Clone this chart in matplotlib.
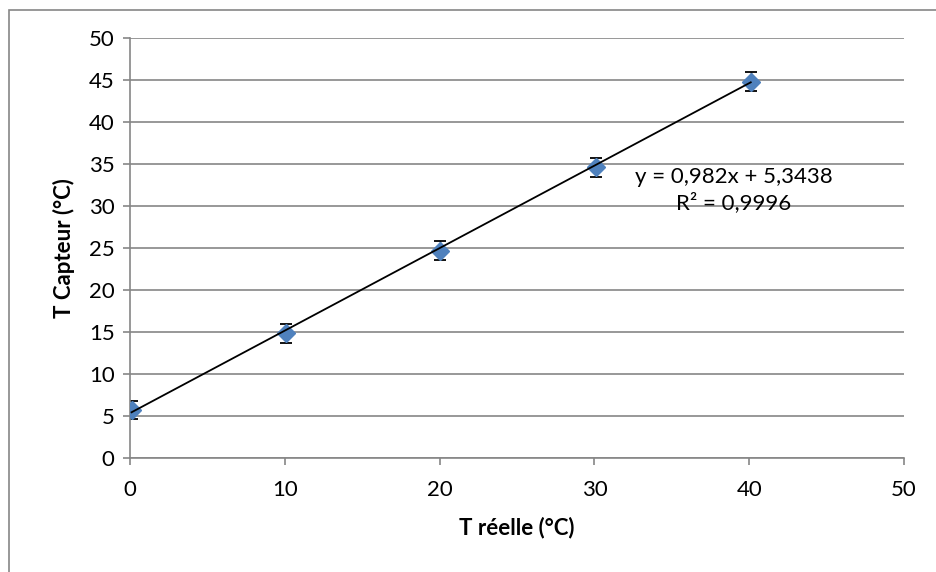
import matplotlib.pyplot as plt
import matplotlib.patches as patches
import numpy as np

plt.rcParams['font.family'] = ['Lato', 'DejaVu Sans']

# measured data
t_reelle = [0.1, 10.1, 20.0, 30.1, 40.1]
t_capteur = [5.7, 14.85, 24.7, 34.6, 44.8]
erreur = [1.1, 1.1, 1.1, 1.1, 1.1]

# trendline (as given in the chart)
pente = 0.982
origine = 5.3438
equation = "y = 0,982x + 5,3438\nR² = 0,9996"

gris = "#868686"
bleu = "#4F81BD"

fig = plt.figure(figsize=(9.36, 5.72), dpi=100)
ax = fig.add_axes([130 / 936, 1 - 458 / 572, 774 / 936, 420 / 572])

# outer chart frame
fig.patches.append(patches.Rectangle((9 / 936, -0.1), 1.2, 1 - 10 / 572 + 0.1,
                                     transform=fig.transFigure, fill=False,
                                     edgecolor=gris, linewidth=1.2))

ax.errorbar(t_reelle, t_capteur, yerr=erreur, fmt="none", ecolor="black",
            elinewidth=1, capsize=4, capthick=1.3, zorder=2)
ax.plot(t_reelle, t_capteur, linestyle="none", marker="D", markersize=9.5,
        color=bleu, zorder=3)

x_fit = np.array([min(t_reelle), max(t_reelle)])
ax.plot(x_fit, pente * x_fit + origine, color="black", linewidth=1.3, zorder=4)

ax.text(39.0, 31.9, equation, ha="center", va="center", fontsize=16,
        linespacing=1.25)

ax.set_xlim(0, 50)
ax.set_ylim(0, 50)
ax.set_xticks(range(0, 51, 10))
ax.set_yticks(range(0, 51, 5))
ax.grid(True, axis="y", color=gris, linewidth=1.2)
ax.set_axisbelow(True)
for s in ["top", "right"]:
    ax.spines[s].set_visible(False)
for s in ["left", "bottom"]:
    ax.spines[s].set_color(gris)
    ax.spines[s].set_linewidth(1.2)
ax.tick_params(axis="both", direction="out", length=5, color=gris, width=1.2,
               labelsize=16)
ax.tick_params(axis="y", pad=6)
ax.tick_params(axis="x", pad=11)

ax.set_xlabel("T réelle (°C)", fontsize=16, fontweight="bold", labelpad=12)
ax.set_ylabel("T Capteur (°C)", fontsize=16, fontweight="bold", labelpad=10)

fig.savefig("out.png", dpi=100)
